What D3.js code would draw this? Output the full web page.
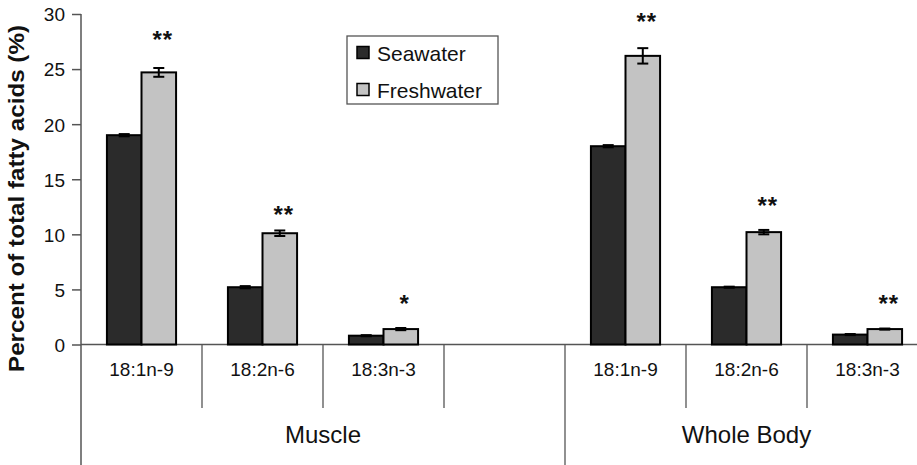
<!DOCTYPE html>
<html>
<head>
<meta charset="utf-8">
<script src="https://cdn.jsdelivr.net/npm/d3@7"></script>
<style>
  html, body { margin: 0; padding: 0; background: #fff; }
  svg { display: block; font-family: "Liberation Sans", Arial, Helvetica, sans-serif; }
</style>
</head>
<body>
<svg id="chart" width="917" height="465"></svg>
<script>
// ---- data ----
const groups = ["Muscle", "Whole Body"];
const acids = ["18:1n-9", "18:2n-6", "18:3n-3"];
const series = ["Seawater", "Freshwater"];
// values per group, in acid order
const seawaterMuscle = [19.0, 5.2, 0.8];
const freshwaterMuscle = [24.7, 10.1, 1.4];
const seawaterWhole = [18.0, 5.2, 0.9];
const freshwaterWhole = [26.2, 10.2, 1.4];
const seawaterMuscleErr = [0.1, 0.1, 0.05];
const freshwaterMuscleErr = [0.4, 0.25, 0.1];
const seawaterWholeErr = [0.1, 0.05, 0.05];
const freshwaterWholeErr = [0.7, 0.2, 0.05];
const sigMuscle = ["**", "**", "*"];
const sigWhole = ["**", "**", "**"];
const sigMuscleY = [28.0, 12.1, 4.0];   // label heights in data units
const sigWholeY = [29.6, 12.9, 4.0];
const yTicks = [0, 5, 10, 15, 20, 25, 30];
const yTitle = "Percent of total fatty acids (%)";

// ---- build slots ----
// Muscle has an extra empty slot after its three acids
const slots = [];
acids.forEach((a, i) => slots.push({key: "Muscle|" + a, group: "Muscle", acid: a,
  sw: seawaterMuscle[i], fw: freshwaterMuscle[i], swErr: seawaterMuscleErr[i], fwErr: freshwaterMuscleErr[i],
  sig: sigMuscle[i], sigY: sigMuscleY[i]}));
slots.push({key: "Muscle|", group: "Muscle", acid: "", empty: true});
acids.forEach((a, i) => slots.push({key: "Whole Body|" + a, group: "Whole Body", acid: a,
  sw: seawaterWhole[i], fw: freshwaterWhole[i], swErr: seawaterWholeErr[i], fwErr: freshwaterWholeErr[i],
  sig: sigWhole[i], sigY: sigWholeY[i]}));

const svg = d3.select("#chart");
const axisColor = "#555";
const textColor = "#111";

const x = d3.scaleBand().domain(slots.map(d => d.key)).range([81, 928]).padding(0);
const xs = d3.scaleBand().domain(series).range([0, x.bandwidth()]).paddingInner(0).paddingOuter(0.75);
const y = d3.scaleLinear().domain([0, 30]).range([344.5, 14]);
const color = d3.scaleOrdinal().domain(series).range(["#2b2b2b", "#c3c3c3"]);

// ---- y axis ----
const yAxis = svg.append("g").attr("transform", "translate(81,0)")
  .call(d3.axisLeft(y).tickValues(yTicks).tickSize(9).tickPadding(7).tickSizeOuter(0));
yAxis.select(".domain").remove();
yAxis.selectAll(".tick line").attr("stroke", axisColor).attr("stroke-width", 1.5);
yAxis.selectAll(".tick text").attr("font-size", 19).attr("fill", textColor)
  .attr("font-family", "Liberation Sans, Arial, sans-serif").attr("dy", "0.36em");
svg.append("line").attr("x1", 81).attr("x2", 81).attr("y1", y(30)).attr("y2", 465)
  .attr("stroke", axisColor).attr("stroke-width", 1.5);

// ---- x axis line ----
svg.append("line").attr("x1", 81).attr("x2", 928).attr("y1", y(0)).attr("y2", y(0))
  .attr("stroke", axisColor).attr("stroke-width", 1.5);

// separators: short between slots, long between groups
slots.forEach((d, i) => {
  if (i === 0) return;
  const long = d.group !== slots[i - 1].group;
  const xp = x(d.key);
  svg.append("line").attr("x1", xp).attr("x2", xp).attr("y1", y(0)).attr("y2", long ? 465 : 408)
    .attr("stroke", axisColor).attr("stroke-width", 1.3);
});
// closing separator after last slot (off canvas edge)
svg.append("line").attr("x1", x.range()[1]).attr("x2", x.range()[1]).attr("y1", y(0)).attr("y2", 465)
  .attr("stroke", axisColor).attr("stroke-width", 1.3);

// category labels
svg.append("g").selectAll("text").data(slots.filter(d => !d.empty)).join("text")
  .attr("x", d => x(d.key) + x.bandwidth() / 2)
  .attr("y", 376)
  .attr("text-anchor", "middle")
  .attr("font-size", 19)
  .attr("fill", textColor)
  .text(d => d.acid);

// group labels
groups.forEach(g => {
  const ks = slots.filter(d => d.group === g);
  const x0 = x(ks[0].key), x1 = x(ks[ks.length - 1].key) + x.bandwidth();
  svg.append("text").attr("x", (x0 + x1) / 2).attr("y", 443)
    .attr("text-anchor", "middle").attr("font-size", 24).attr("fill", textColor).text(g);
});

// ---- bars ----
const barData = [];
slots.filter(d => !d.empty).forEach(d => {
  barData.push({slot: d.key, s: "Seawater", v: d.sw, e: d.swErr});
  barData.push({slot: d.key, s: "Freshwater", v: d.fw, e: d.fwErr});
});
const bars = svg.append("g");
bars.selectAll("rect").data(barData).join("rect")
  .attr("x", d => x(d.slot) + xs(d.s))
  .attr("y", d => y(d.v))
  .attr("width", xs.bandwidth())
  .attr("height", d => y(0) - y(d.v))
  .attr("fill", d => color(d.s))
  .attr("stroke", "#000")
  .attr("stroke-width", 2);

// error bars
const eb = svg.append("g").attr("stroke", "#000").attr("stroke-width", 2);
barData.forEach(d => {
  const cx = x(d.slot) + xs(d.s) + xs.bandwidth() / 2;
  const capW = 5.5;
  eb.append("line").attr("x1", cx).attr("x2", cx).attr("y1", y(d.v + d.e)).attr("y2", y(d.v - d.e));
  eb.append("line").attr("x1", cx - capW).attr("x2", cx + capW).attr("y1", y(d.v + d.e)).attr("y2", y(d.v + d.e));
  eb.append("line").attr("x1", cx - capW).attr("x2", cx + capW).attr("y1", y(d.v - d.e)).attr("y2", y(d.v - d.e));
});

// significance marks
svg.append("g").selectAll("text").data(slots.filter(d => !d.empty)).join("text")
  .attr("x", d => x(d.key) + xs("Freshwater") + xs.bandwidth() / 2 + 4)
  .attr("y", d => y(d.sigY) + 12)
  .attr("text-anchor", "middle")
  .attr("font-size", 24)
  .attr("font-weight", "bold")
  .attr("letter-spacing", 1)
  .attr("fill", textColor)
  .text(d => d.sig);

// ---- y title ----
svg.append("text")
  .attr("transform", `translate(24,${(25 + 372) / 2}) rotate(-90)`)
  .attr("text-anchor", "middle")
  .attr("font-size", 22)
  .attr("font-weight", "bold")
  .attr("fill", textColor)
  .attr("textLength", 347)
  .attr("lengthAdjust", "spacingAndGlyphs")
  .text(yTitle);

// ---- legend ----
const lg = svg.append("g");
lg.append("rect").attr("x", 347).attr("y", 36).attr("width", 151).attr("height", 68)
  .attr("fill", "#fff").attr("stroke", axisColor).attr("stroke-width", 1.3);
series.forEach((s, i) => {
  const cy = 53 + i * 37;
  lg.append("rect").attr("x", 357).attr("y", cy - 6.5).attr("width", 12).attr("height", 12)
    .attr("fill", color(s)).attr("stroke", "#000").attr("stroke-width", 1.5);
  lg.append("text").attr("x", 377).attr("y", cy).attr("dy", "0.36em")
    .attr("font-size", 21).attr("fill", textColor).text(s);
});
</script>
</body>
</html>
